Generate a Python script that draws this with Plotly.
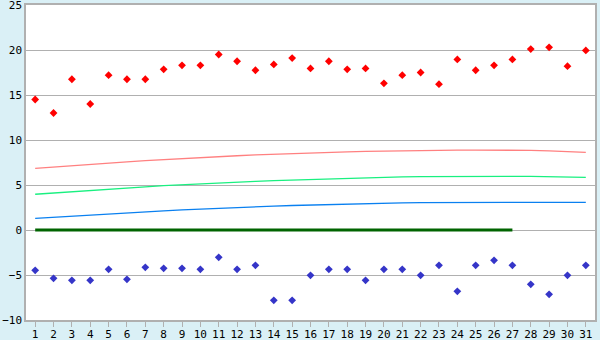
import plotly.graph_objects as go

days = list(range(1, 32))
tick_labels = [str(d) for d in days]

max_temp = [14.5, 13.0, 16.75, 14.0, 17.2, 16.75, 16.75, 17.85, 18.3, 18.3,
            19.5, 18.75, 17.75, 18.4, 19.1, 17.95, 18.75, 17.85, 17.95, 16.3,
            17.2, 17.5, 16.2, 18.95, 17.75, 18.3, 18.95, 20.1, 20.3, 18.2, 19.95]

min_temp = [-4.48, -5.37, -5.59, -5.59, -4.37, -5.48, -4.15, -4.26, -4.26, -4.37,
            -3.04, -4.37, -3.93, -7.81, -7.81, -5.04, -4.37, -4.37, -5.59, -4.37,
            -4.37, -5.04, -3.93, -6.81, -3.93, -3.37, -3.93, -6.04, -7.15, -5.04, -3.93]

normal_high = [6.85, 7.01, 7.16, 7.31, 7.45, 7.58, 7.71, 7.83, 7.95, 8.05,
               8.15, 8.25, 8.34, 8.42, 8.49, 8.56, 8.62, 8.68, 8.73, 8.77,
               8.80, 8.83, 8.85, 8.87, 8.88, 8.88, 8.88, 8.85, 8.79, 8.71, 8.62]

normal_mean = [3.97, 4.12, 4.27, 4.41, 4.55, 4.68, 4.80, 4.92, 5.03, 5.13,
               5.23, 5.32, 5.41, 5.49, 5.56, 5.63, 5.70, 5.76, 5.81, 5.86,
               5.90, 5.93, 5.95, 5.96, 5.97, 5.97, 5.96, 5.95, 5.92, 5.88, 5.84]

normal_low = [1.30, 1.43, 1.56, 1.69, 1.81, 1.92, 2.03, 2.13, 2.23, 2.33,
              2.41, 2.50, 2.57, 2.65, 2.72, 2.78, 2.84, 2.89, 2.93, 2.98,
              3.01, 3.04, 3.06, 3.07, 3.07, 3.07, 3.07, 3.07, 3.07, 3.07, 3.07]

zero_line = [0] * 27 + [None] * 4

fig = go.Figure()

fig.add_trace(go.Scatter(x=days, y=normal_high, mode="lines",
                         line=dict(color="#ff8080", width=1.3), hoverinfo="skip"))
fig.add_trace(go.Scatter(x=days, y=normal_mean, mode="lines",
                         line=dict(color="#19f080", width=1.3), hoverinfo="skip"))
fig.add_trace(go.Scatter(x=days, y=normal_low, mode="lines",
                         line=dict(color="#0a80f0", width=1.3), hoverinfo="skip"))
fig.add_trace(go.Scatter(x=days, y=zero_line, mode="lines",
                         line=dict(color="#006400", width=3), hoverinfo="skip"))
fig.add_trace(go.Scatter(x=days, y=max_temp, mode="markers",
                         marker=dict(symbol="diamond", size=6, color="#ff0000")))
fig.add_trace(go.Scatter(x=days, y=min_temp, mode="markers",
                         marker=dict(symbol="diamond", size=6, color="#3535c8")))

font = dict(family="DejaVu Sans Mono", size=11, color="#000000")

fig.update_layout(
    width=600, height=340,
    margin=dict(l=26, r=5, t=5, b=20),
    paper_bgcolor="#daf0f6",
    plot_bgcolor="#ffffff",
    showlegend=False,
    font=font,
    xaxis=dict(
        range=[0.5, 31.5], tickmode="array", tickvals=days, ticktext=tick_labels,
        showgrid=False, zeroline=False, showline=True, linecolor="#b0b0b0",
        linewidth=1.5, mirror=True, ticks="outside", ticklen=5, tickcolor="#b0b0b0",
        tickfont=font, automargin=False, ticklabelstandoff=-2,
    ),
    yaxis=dict(
        range=[-10, 25], tickmode="array", tickvals=[-10, -5, 0, 5, 10, 15, 20, 25],
        showgrid=True, gridcolor="#b0b0b0", gridwidth=1.2, zeroline=False,
        showline=True, linecolor="#b0b0b0", linewidth=1.5, mirror=True,
        ticks="", tickfont=font, automargin=False, ticklabeloverflow="allow",
        ticklabelstandoff=0,
    ),
)

fig.write_html("out.html")
